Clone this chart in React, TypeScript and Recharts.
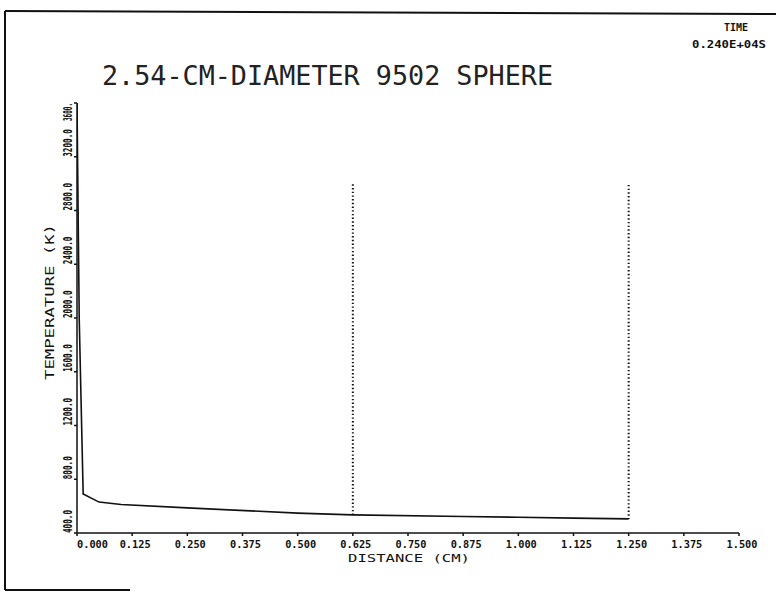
import { Line, LineChart, XAxis, YAxis } from "recharts";

// temperature profile through the sphere at t = 2400 s
const distance = [0, 0.005, 0.014, 0.05, 0.1, 0.25, 0.5, 0.625, 0.875, 1.0, 1.125, 1.25];
const temperature = [3600, 2000, 690, 630, 612, 587, 548, 535, 523, 517, 511, 505];

// dotted vertical markers (region boundaries)
const innerMarkerX = [0.625, 0.625];
const innerMarkerT = [2995, 535];
const outerMarkerX = [1.25, 1.25];
const outerMarkerT = [2990, 505];

const xTicks = [0, 0.125, 0.25, 0.375, 0.5, 0.625, 0.75, 0.875, 1.0, 1.125, 1.25, 1.375, 1.5];
const yTicks = [400, 800, 1200, 1600, 2000, 2400, 2800, 3200, 3600];

const profile = distance.map((d, i) => ({ d, t: temperature[i] }));
const innerMarker = innerMarkerX.map((d, i) => ({ d, t: innerMarkerT[i] }));
const outerMarker = outerMarkerX.map((d, i) => ({ d, t: outerMarkerT[i] }));

const W = 776;
const H = 593;
const mono = "'DejaVu Sans Mono', monospace";

function XTick(props: any) {
  const { x, payload, index } = props;
  const first = index === 0;
  return (
    <text
      x={first ? x : x + 3}
      y={548}
      textAnchor={first ? "start" : "middle"}
      fontFamily={mono}
      fontSize={10}
      fontWeight="bold"
      fill="#111"
      textLength={31}
      lengthAdjust="spacingAndGlyphs"
    >
      {payload.value.toFixed(3)}
    </text>
  );
}

function YTick(props: any) {
  const { y, payload, index } = props;
  const last = index === yTicks.length - 1;
  // the top label is clipped by the plotter and hangs below the axis end
  const label = last ? "3600." : payload.value.toFixed(1);
  const tx = 72;
  return (
    <text
      x={tx}
      y={y}
      transform={`rotate(-90 ${tx} ${y})`}
      textAnchor={last ? "end" : "start"}
      fontFamily={mono}
      fontSize={12}
      fontWeight="bold"
      fill="#111"
      textLength={last ? 18 : label.length * 4.6}
      lengthAdjust="spacingAndGlyphs"
    >
      {label}
    </text>
  );
}

export default function App() {
  return (
    <div style={{ position: "absolute", left: 0, top: 0, width: W, height: H, background: "#fff" }}>
      <LineChart
        width={W}
        height={H}
        margin={{ top: 103, right: 37, bottom: 30, left: 37 }}
      >
        <XAxis
          type="number"
          dataKey="d"
          domain={[0, 1.5]}
          ticks={xTicks}
          interval={0}
          height={30}
          tick={<XTick />}
          tickSize={3}
          stroke="#111"
          strokeWidth={1.5}
          allowDataOverflow
        />
        <YAxis
          type="number"
          dataKey="t"
          domain={[400, 3600]}
          ticks={yTicks}
          interval={0}
          width={40}
          tick={<YTick />}
          tickSize={3}
          stroke="#111"
          strokeWidth={1.5}
          allowDataOverflow
        />
        <Line
          data={profile}
          dataKey="t"
          type="linear"
          stroke="#111"
          strokeWidth={1.6}
          dot={false}
          isAnimationActive={false}
        />
        <Line
          data={innerMarker}
          dataKey="t"
          type="linear"
          stroke="#111"
          strokeWidth={2}
          strokeDasharray="1.4 2.3"
          dot={false}
          isAnimationActive={false}
        />
        <Line
          data={outerMarker}
          dataKey="t"
          type="linear"
          stroke="#111"
          strokeWidth={2}
          strokeDasharray="1.4 2.3"
          dot={false}
          isAnimationActive={false}
        />
      </LineChart>
      <svg
        width={W}
        height={H}
        style={{ position: "absolute", left: 0, top: 0, pointerEvents: "none" }}
      >
        {/* page frame */}
        <line x1={5} y1={11} x2={W} y2={14} stroke="#111" strokeWidth={2} />
        <line x1={5} y1={11} x2={5} y2={590} stroke="#111" strokeWidth={2} />
        <line x1={5} y1={590} x2={130} y2={590} stroke="#111" strokeWidth={2} />

        <text
          x={102}
          y={85}
          fontFamily={mono}
          fontSize={26}
          fill="#222"
          textLength={451}
          lengthAdjust="spacingAndGlyphs"
        >
          2.54-CM-DIAMETER 9502 SPHERE
        </text>
        <text x={736} y={31} textAnchor="middle" fontFamily={mono} fontSize={11} fontWeight="bold" fill="#111" textLength={24} lengthAdjust="spacingAndGlyphs">
          TIME
        </text>
        <text x={729} y={48} textAnchor="middle" fontFamily={mono} fontSize={11} fontWeight="bold" fill="#111" textLength={74} lengthAdjust="spacingAndGlyphs">
          0.240E+04S
        </text>
        <text x={409} y={562} textAnchor="middle" fontFamily={mono} fontSize={11} fill="#111" textLength={122} lengthAdjust="spacingAndGlyphs">
          DISTANCE (CM)
        </text>
        <text
          x={54}
          y={302}
          transform="rotate(-90 54 302)"
          textAnchor="middle"
          fontFamily={mono}
          fontSize={13}
          fill="#111"
          textLength={156}
          lengthAdjust="spacingAndGlyphs"
        >
          TEMPERATURE (K)
        </text>
      </svg>
    </div>
  );
}
